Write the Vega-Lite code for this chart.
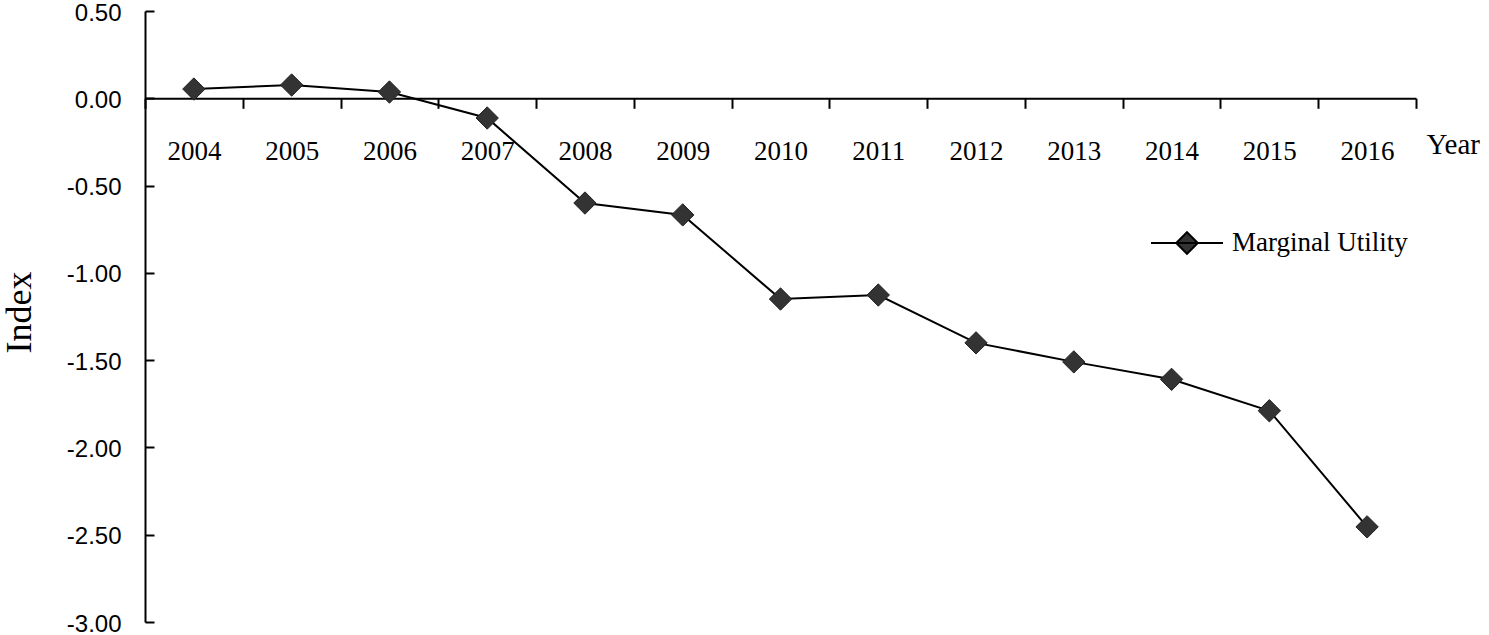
{
  "$schema": "https://vega.github.io/schema/vega-lite/v6.json",
  "autosize": {"type": "none"},
  "padding": {"left": 145, "top": 11, "right": 73, "bottom": 13},
  "width": 1271,
  "height": 611,
  "background": "white",
  "config": {"view": {"stroke": null}},
  "data": {"values": [
    {"year": "2004", "value": 0.053, "series": "Marginal Utility"},
    {"year": "2005", "value": 0.076, "series": "Marginal Utility"},
    {"year": "2006", "value": 0.036, "series": "Marginal Utility"},
    {"year": "2007", "value": -0.113, "series": "Marginal Utility"},
    {"year": "2008", "value": -0.60, "series": "Marginal Utility"},
    {"year": "2009", "value": -0.668, "series": "Marginal Utility"},
    {"year": "2010", "value": -1.15, "series": "Marginal Utility"},
    {"year": "2011", "value": -1.127, "series": "Marginal Utility"},
    {"year": "2012", "value": -1.401, "series": "Marginal Utility"},
    {"year": "2013", "value": -1.51, "series": "Marginal Utility"},
    {"year": "2014", "value": -1.61, "series": "Marginal Utility"},
    {"year": "2015", "value": -1.79, "series": "Marginal Utility"},
    {"year": "2016", "value": -2.455, "series": "Marginal Utility"}
  ]},
  "encoding": {
    "x": {
      "field": "year", "type": "ordinal",
      "scale": {"type": "band", "paddingInner": 0, "paddingOuter": 0},
      "axis": {
        "orient": "bottom", "offset": -523.7, "title": "Year",
        "labelAngle": 0, "labelFont": "Liberation Serif", "labelFontSize": 27, "labelColor": "#000",
        "labelPadding": 30, "tickBand": "extent", "tickSize": 10, "tickColor": "#000", "tickWidth": 2,
        "domainColor": "#000", "domainWidth": 2, "grid": false,
        "titleFont": "Liberation Serif", "titleFontSize": 29, "titleFontWeight": "normal", "titleColor": "#000",
        "titleX": 1281, "titleY": 46, "titleAlign": "left", "titleBaseline": "middle", "titleAnchor": null
      }
    },
    "y": {
      "field": "value", "type": "quantitative",
      "scale": {"domain": [-3, 0.5], "nice": false, "zero": false},
      "axis": {
        "values": [-3, -2.5, -2, -1.5, -1, -0.5, 0, 0.5],
        "labelExpr": "replace(format(datum.value, '.2f'), '\u2212', '-')",
        "title": "Index",
        "labelFont": "Liberation Sans", "labelFontSize": 24, "labelColor": "#000", "labelPadding": 33, "labelOffset": 2,
        "tickSize": -9, "tickColor": "#000", "tickWidth": 2, "domainColor": "#000", "domainWidth": 2, "grid": false,
        "titleFont": "Liberation Serif", "titleFontSize": 36, "titleFontWeight": "normal", "titleColor": "#000",
        "titleX": -126, "titleY": 301, "titleBaseline": "middle", "titleAngle": -90
      }
    }
  },
  "layer": [
    {
      "mark": {"type": "line", "color": "#000", "strokeWidth": 2},
      "encoding": {
        "color": {
          "field": "series", "type": "nominal", "scale": {"range": ["#000"]},
          "legend": {
            "title": null, "orient": "none", "legendX": 1005, "legendY": 195,
            "symbolType": "M-1,0L1,0M0,-0.3L0.3,0L0,0.3L-0.3,0Z",
            "symbolSize": 5184, "symbolStrokeWidth": 2, "symbolFillColor": "#333", "symbolStrokeColor": "#000",
            "labelFont": "Liberation Serif", "labelFontSize": 27, "labelColor": "#000", "labelOffset": 8, "labelLimit": 0,
            "encode": {"symbols": {"update": {"fill": {"value": "#333"}, "stroke": {"value": "#000"}, "strokeWidth": {"value": 2}}}}
          }
        }
      }
    },
    {
      "mark": {"type": "point", "shape": "diamond", "filled": true, "color": "#333", "size": 500, "opacity": 1, "stroke": "#222", "strokeWidth": 1}
    }
  ]
}
